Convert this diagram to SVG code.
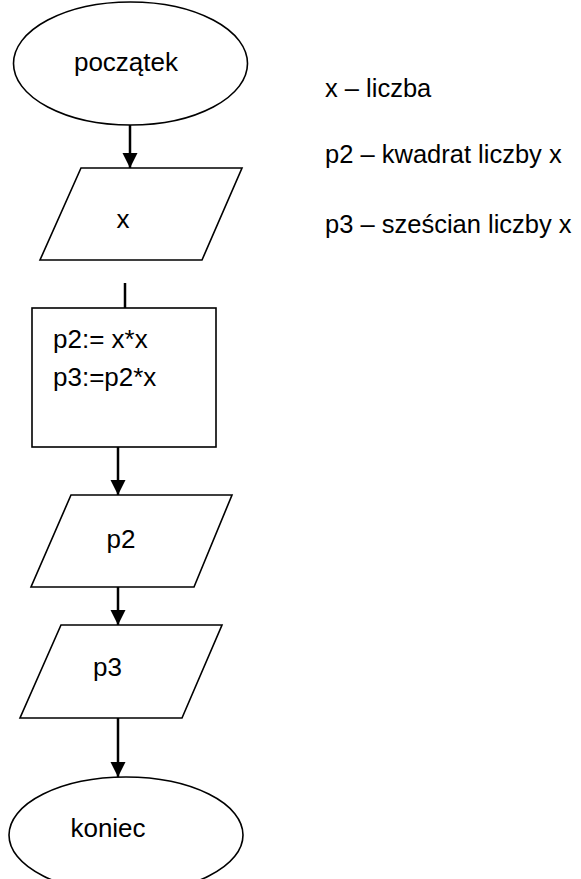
<svg xmlns="http://www.w3.org/2000/svg" width="581" height="879" viewBox="0 0 581 879">
<style>
.s{fill:#fff;stroke:#000;stroke-width:1.6}
.t{font-family:"Liberation Sans",Arial,sans-serif;font-size:26px;fill:#000}
.l{font-size:25.5px}
.m{text-anchor:middle}
.c{stroke:#000;stroke-width:2.5;fill:none}
</style>
<defs>
<marker id="ah" markerUnits="userSpaceOnUse" markerWidth="16" markerHeight="16" refX="15" refY="8" orient="auto">
<path d="M0,0.5 L15,8 L0,15.5 Z" fill="#000"/>
</marker>
</defs>
<rect width="581" height="879" fill="#fff"/>
<g id="connectors">
<line class="c" x1="130" y1="125" x2="130" y2="168" marker-end="url(#ah)"/>
<line class="c" x1="125" y1="283" x2="125" y2="308"/>
<line class="c" x1="118" y1="447" x2="118" y2="495" marker-end="url(#ah)"/>
<line class="c" x1="118" y1="587" x2="118" y2="625" marker-end="url(#ah)"/>
<line class="c" x1="118" y1="718" x2="118" y2="777" marker-end="url(#ah)"/>
</g>
<g id="start">
<ellipse class="s" cx="130.5" cy="63.5" rx="117" ry="61.5"/>
<text class="t m" x="126" y="71">początek</text>
</g>
<g id="input-x">
<polygon class="s" points="81,168 242,168 202,260 40,260"/>
<text class="t m" x="123" y="228">x</text>
</g>
<g id="process">
<rect class="s" x="32" y="308" width="184" height="139"/>
<text class="t" x="53" y="348">p2:= x*x</text>
<text class="t" x="53" y="386">p3:=p2*x</text>
</g>
<g id="output-p2">
<polygon class="s" points="71,495 232,495 194,587 31,587"/>
<text class="t m" x="121" y="548">p2</text>
</g>
<g id="output-p3">
<polygon class="s" points="61,625 222,625 182,718 20,718"/>
<text class="t m" x="107.5" y="676">p3</text>
</g>
<g id="end">
<ellipse class="s" cx="126" cy="835" rx="117" ry="58"/>
<text class="t m" x="108" y="837">koniec</text>
</g>
<g id="legend">
<text class="t l" x="325" y="97">x – liczba</text>
<text class="t l" x="325" y="163">p2 – kwadrat liczby x</text>
<text class="t l" x="325" y="233">p3 – sześcian liczby x</text>
</g>
</svg>
